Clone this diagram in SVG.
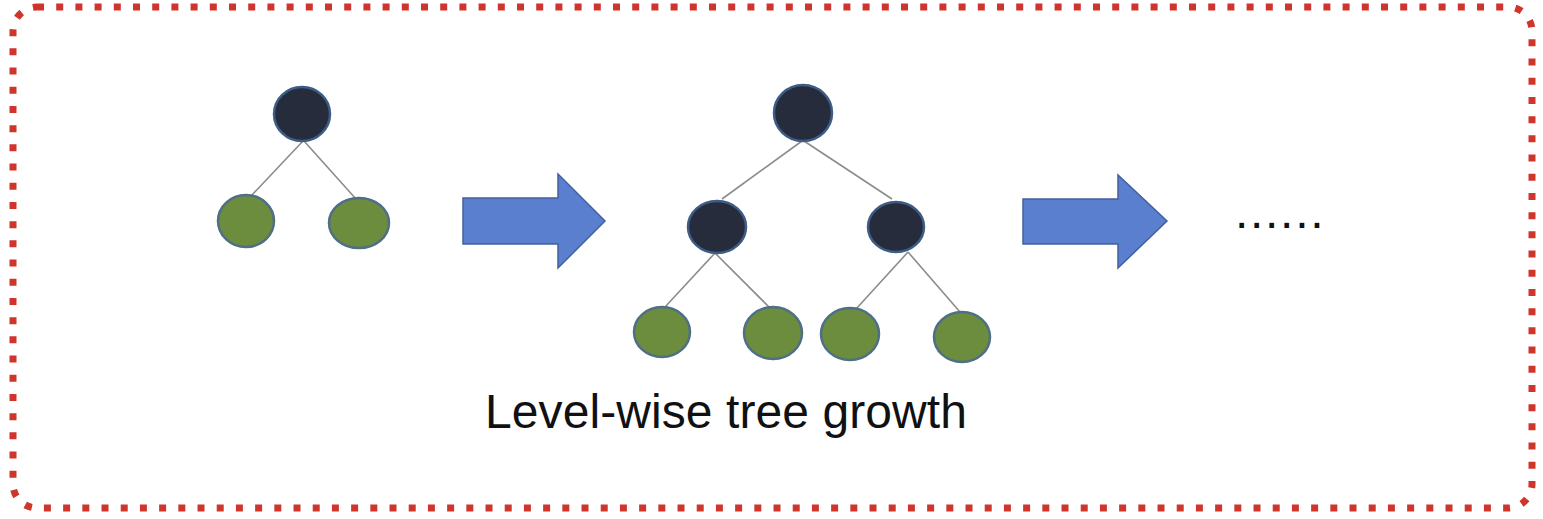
<svg xmlns="http://www.w3.org/2000/svg" width="1543" height="519" viewBox="0 0 1543 519">
<style>
.frame{fill:none;stroke:#d0352b;stroke-width:7;stroke-dasharray:7 12.2}
.inner{fill:#262c3c;stroke:#3d5c86;stroke-width:2.5}
.leaf{fill:#6c8d3d;stroke:#4f6f86;stroke-width:2.5}
.edge{stroke:#8c8c8c;stroke-width:1.6;fill:none}
.arrow{fill:#5b7fcf;stroke:#41609f;stroke-width:1.5}
.lbl{font-family:"Liberation Sans",Arial,sans-serif;fill:#111}
</style>
<rect class="frame" x="13" y="7" width="1519" height="501" rx="24"/>
<g id="connectors">
<line class="edge" x1="303" y1="141" x2="251" y2="196"/>
<line class="edge" x1="304" y1="141" x2="356" y2="199"/>
<line class="edge" x1="802" y1="141" x2="722" y2="199"/>
<line class="edge" x1="804" y1="141" x2="892" y2="199"/>
<line class="edge" x1="715" y1="253" x2="665" y2="307"/>
<line class="edge" x1="715" y1="253" x2="770" y2="308"/>
<line class="edge" x1="908" y1="252" x2="856" y2="309"/>
<line class="edge" x1="908" y1="252" x2="960" y2="312"/>
</g>
<g id="t1-root"><ellipse class="inner" cx="302" cy="114" rx="28" ry="27"/></g>
<g id="t1-leaf1"><ellipse class="leaf" cx="246" cy="221" rx="28" ry="26"/></g>
<g id="t1-leaf2"><ellipse class="leaf" cx="359" cy="223" rx="30" ry="25"/></g>
<g id="arrow1"><polygon class="arrow" points="463,198 558,198 558,174 605,221 558,268 558,244 463,244"/></g>
<g id="t2-root"><ellipse class="inner" cx="803" cy="113" rx="29" ry="28"/></g>
<g id="t2-left"><ellipse class="inner" cx="717" cy="227" rx="29" ry="26"/></g>
<g id="t2-right"><ellipse class="inner" cx="896" cy="227" rx="28" ry="25"/></g>
<g id="t2-leaf1"><ellipse class="leaf" cx="662" cy="332" rx="28" ry="25"/></g>
<g id="t2-leaf2"><ellipse class="leaf" cx="773" cy="333" rx="29" ry="26"/></g>
<g id="t2-leaf3"><ellipse class="leaf" cx="850" cy="334" rx="29" ry="26"/></g>
<g id="t2-leaf4"><ellipse class="leaf" cx="962" cy="337" rx="28" ry="25"/></g>
<g id="arrow2"><polygon class="arrow" points="1023,199 1118,199 1118,175 1167,221 1118,268 1118,244 1023,244"/></g>
<g id="ellipsis"><text class="lbl" x="1235" y="228" font-size="48" letter-spacing="1.7">......</text></g>
<g id="caption"><text class="lbl" x="485" y="428" font-size="48" textLength="482" lengthAdjust="spacing">Level-wise tree growth</text></g>
</svg>
